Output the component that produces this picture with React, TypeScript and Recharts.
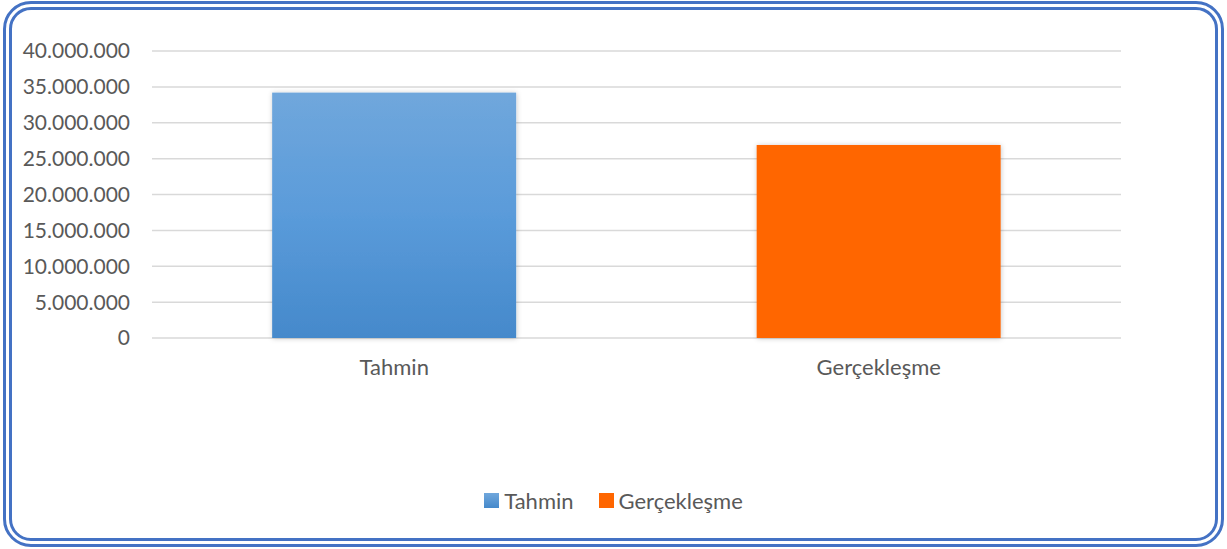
import React from 'react';
import { BarChart, Bar, XAxis, YAxis, CartesianGrid, Cell, Legend } from 'recharts';

const categories = ['Tahmin', 'Gerçekleşme'];
const values = [34200000, 26900000];
const yTicks = [0, 5000000, 10000000, 15000000, 20000000, 25000000, 30000000, 35000000, 40000000];
const colors = ['url(#blueGrad)', '#FF6600'];
const legendSwatch = ['url(#legBlue)', '#FF6600'];

const data = categories.map((c, i) => ({ name: c, value: values[i] }));

const fmt = (v: number) => String(v).replace(/\B(?=(\d{3})+(?!\d))/g, '.');

const FONT = 'Lato, "Open Sans", sans-serif';
const TEXT = '#595959';

const BarShape = (props: any) => {
  const { x, y, width, height, fill } = props;
  if (height <= 0) return null;
  return <rect x={x} y={y} width={width} height={height} fill={fill} filter="url(#barShadow)" />;
};

const LegendContent = () => (
  <div style={{ display: 'flex', justifyContent: 'center', alignItems: 'center', fontFamily: FONT, fontSize: 22, color: TEXT }}>
    {categories.map((c, i) => (
      <div key={c} style={{ display: 'flex', alignItems: 'center', marginRight: i === 0 ? 25 : 0 }}>
        <svg width={15} height={15} style={{ marginRight: 5 }}>
          <defs>
            <linearGradient id="legBlue" x1="0" y1="0" x2="0" y2="1">
              <stop offset="0%" stopColor="#70A7DC" />
              <stop offset="100%" stopColor="#4589CB" />
            </linearGradient>
          </defs>
          <rect x={0} y={0} width={15} height={15} fill={legendSwatch[i]} />
        </svg>
        <span>{c}</span>
      </div>
    ))}
  </div>
);

export default function App() {
  return (
    <div style={{ position: 'fixed', left: 0, top: 0, width: 1227, height: 549, background: '#fff' }}>
      <div
        style={{
          position: 'absolute',
          left: 3,
          top: 1,
          width: 1221,
          height: 546,
          boxSizing: 'border-box',
          border: '9px double #4472C4',
          borderRadius: 28,
        }}
      />
      <div style={{ position: 'absolute', left: 0, top: 0 }}>
        <BarChart
          width={1227}
          height={549}
          data={data}
          margin={{ top: 51, right: 106, left: 0, bottom: 35 }}
          barCategoryGap="24.8%"
        >
          <defs>
            <linearGradient id="blueGrad" x1="0" y1="0" x2="0" y2="1">
              <stop offset="0%" stopColor="#70A7DC" />
              <stop offset="50%" stopColor="#5A9BDA" />
              <stop offset="100%" stopColor="#4589CB" />
            </linearGradient>
            <filter id="barShadow" x="-10%" y="-10%" width="120%" height="120%">
              <feDropShadow dx="0.5" dy="0.5" stdDeviation="2.5" floodColor="#000" floodOpacity="0.22" />
            </filter>
          </defs>
          <CartesianGrid vertical={false} stroke="#D9D9D9" strokeWidth={1.5} />
          <XAxis
            dataKey="name"
            axisLine={false}
            tickLine={false}
            height={149}
            tick={{ fill: TEXT, fontSize: 22, fontFamily: FONT, dy: 13 }}
          />
          <YAxis
            width={152}
            domain={[0, 40000000]}
            ticks={yTicks}
            axisLine={false}
            tickLine={false}
            tickFormatter={fmt}
            tick={{ fill: TEXT, fontSize: 21, fontFamily: FONT, dx: -14 }}
          />
          <Legend verticalAlign="bottom" content={<LegendContent />} wrapperStyle={{ left: 0, width: 1227 }} />
          <Bar dataKey="value" isAnimationActive={false} shape={<BarShape />}>
            {data.map((d, i) => (
              <Cell key={d.name} fill={colors[i]} />
            ))}
          </Bar>
        </BarChart>
      </div>
    </div>
  );
}
